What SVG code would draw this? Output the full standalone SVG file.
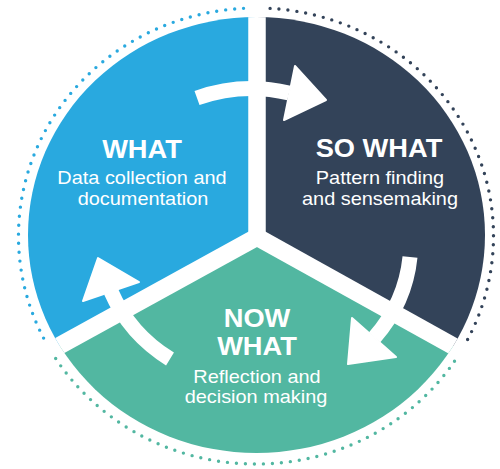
<svg xmlns="http://www.w3.org/2000/svg" width="500" height="469" viewBox="0 0 500 469">
  <style>
    .dots { fill: none; stroke-width: 3.4; stroke-linecap: round; stroke-dasharray: 0 9; }
    .sep { stroke: #ffffff; stroke-width: 17.5; fill: none; stroke-linecap: butt; }
    .shaft { fill: none; stroke: #ffffff; stroke-width: 15; stroke-linecap: butt; }
    .head { fill: #ffffff; stroke: #ffffff; stroke-width: 2; stroke-linejoin: round; }
    .title { font-family: "Liberation Sans", Arial, sans-serif; font-weight: bold; font-size: 26px; fill: #ffffff; text-anchor: middle; }
    .sub { font-family: "Liberation Sans", Arial, sans-serif; font-size: 19px; fill: #ffffff; text-anchor: middle; }
  </style>
  <defs>
    <clipPath id="disc">
      <ellipse cx="256.5" cy="235" rx="228.5" ry="218"/>
    </clipPath>
  </defs>

  <rect width="500" height="469" fill="#ffffff"/>

  <!-- outer dotted rings, one per phase -->
  <path class="dots" stroke="#29a9df" d="M 43.6 338.1 A 237.5 228 0 0 1 244.8 8.3"/>
  <path class="dots" stroke="#334359" d="M 270.1 8.4 A 237.5 228 0 0 1 467.4 339.9"/>
  <path class="dots" stroke="#52b7a1" d="M 454.5 361.2 A 237.5 228 0 0 1 55 357.5"/>

  <!-- sectors -->
  <g clip-path="url(#disc)">
    <g id="what">
      <polygon fill="#29a9df" points="257,237 257,-10 -10,-10 -10,384"/>
    </g>
    <g id="so-what">
      <polygon fill="#334359" points="257,237 257,-10 510,-10 510,377.6"/>
    </g>
    <g id="now-what">
      <polygon fill="#52b7a1" points="257,237 -10,384 -10,480 510,480 510,377.6"/>
    </g>
    <!-- white separators -->
    <path class="sep" d="M 257 237 L 257 -10"/>
    <path class="sep" d="M 257 237 L -10 384"/>
    <path class="sep" d="M 257 237 L 510 377.6"/>
    <circle cx="257" cy="237" r="8.5" fill="#ffffff"/>
  </g>

  <!-- cycle arrows -->
  <g id="connectors">
    <path class="shaft" d="M 197 98 A 156 148 0 0 1 289 93"/>
    <polygon class="head" points="295,66 326,100 284,120"/>
    <path class="shaft" d="M 410 257 A 156 148 0 0 1 374.5 337.5"/>
    <polygon class="head" points="352,318 396,357 348,364"/>
    <path class="shaft" d="M 170 359 A 156 148 0 0 1 111 291.5"/>
    <polygon class="head" points="139,282 98,258 83,301"/>
  </g>

  <!-- labels -->
  <g id="what-label">
    <text class="title" transform="translate(142,158) scale(1.048,1)">WHAT</text>
    <text class="sub" transform="translate(142,184) scale(1.048,1)">Data collection and</text>
    <text class="sub" transform="translate(143,205) scale(1.048,1)">documentation</text>
  </g>
  <g id="so-what-label">
    <text class="title" transform="translate(379,157) scale(1.048,1)">SO WHAT</text>
    <text class="sub" transform="translate(380,184) scale(1.048,1)">Pattern finding</text>
    <text class="sub" transform="translate(380,205) scale(1.048,1)">and sensemaking</text>
  </g>
  <g id="now-what-label">
    <text class="title" transform="translate(257,327) scale(1.048,1)">NOW</text>
    <text class="title" transform="translate(257,355) scale(1.048,1)">WHAT</text>
    <text class="sub" transform="translate(257,383) scale(1.048,1)">Reflection and</text>
    <text class="sub" transform="translate(256,403) scale(1.048,1)">decision making</text>
  </g>
</svg>
